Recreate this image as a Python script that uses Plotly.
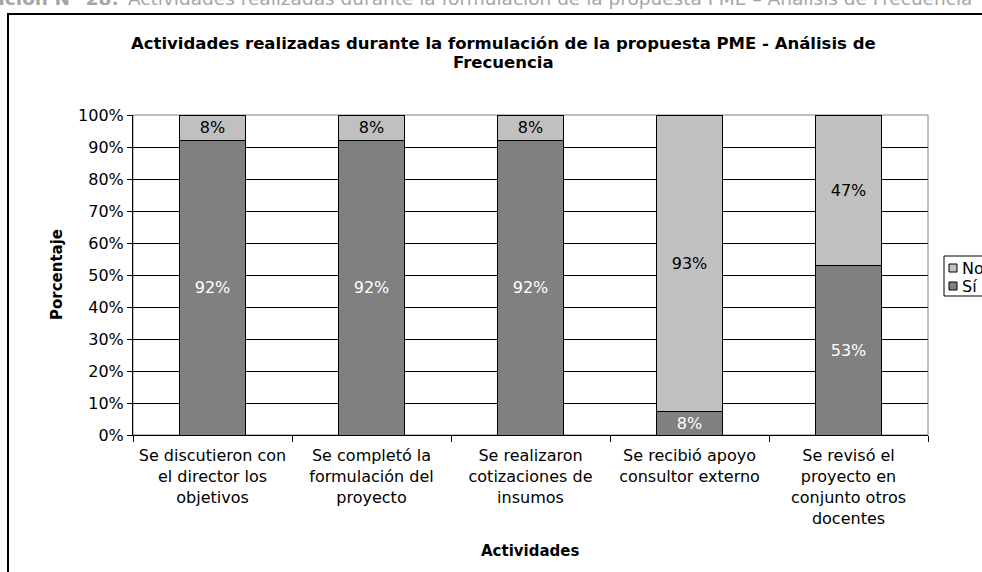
import plotly.graph_objects as go

# data (percent of respondents)
actividades = [
    "Se discutieron con<br>el director los<br>objetivos",
    "Se completó la<br>formulación del<br>proyecto",
    "Se realizaron<br>cotizaciones de<br>insumos",
    "Se recibió apoyo<br>consultor externo",
    "Se revisó el<br>proyecto en<br>conjunto otros<br>docentes",
]
si = [92, 92, 92, 7.5, 53]
no = [8, 8, 8, 92.5, 47]
series_names = ["No", "Sí"]
color_si = "#808080"
color_no = "#c0c0c0"

W, H = 982, 572
L, R, T, B = 133, 54, 115, 137
pw, ph = W - L - R, H - T - B


def px_x(x):
    return (x - L) / pw


def px_y(y):
    return (T + ph - y) / ph


font = "DejaVu Sans, Verdana, sans-serif"

fig = go.Figure()
fig.add_bar(x=actividades, y=si, name="Sí",
            marker=dict(color=color_si, line=dict(color="black", width=1)),
            texttemplate="%{y:.0f}%", textposition="inside",
            insidetextanchor="middle", constraintext="none",
            textfont=dict(color="white", size=16, family=font))
fig.add_bar(x=actividades, y=no, name="No",
            marker=dict(color=color_no, line=dict(color="black", width=1)),
            texttemplate="%{y:.0f}%", textposition="inside",
            insidetextanchor="middle", constraintext="none",
            textfont=dict(color="black", size=16, family=font))


def note(text, x, y, size, xa="center", ya="middle", color="black", **kw):
    return dict(text=text, showarrow=False, xref="paper", yref="paper",
                x=px_x(x), y=px_y(y), xanchor=xa, yanchor=ya,
                font=dict(size=size, family=font, color=color), **kw)


# legend drawn by hand (box is cut by the right edge like in the source)
legend_shapes = [
    dict(type="rect", xref="paper", yref="paper",
         x0=px_x(944), x1=px_x(1010), y0=px_y(296), y1=px_y(256),
         line=dict(color="black", width=1), fillcolor="white"),
]
legend_notes = []
for i, (name, col) in enumerate(zip(series_names, [color_no, color_si])):
    cy = 268 + 18 * i
    legend_shapes.append(dict(type="rect", xref="paper", yref="paper",
                              x0=px_x(949), x1=px_x(957),
                              y0=px_y(cy + 4), y1=px_y(cy - 4),
                              line=dict(color="black", width=1), fillcolor=col))
    legend_notes.append(note(name, 960, cy, 16, xa="left"))

fig.update_layout(
    width=W, height=H,
    barmode="stack", bargap=0.585,
    margin=dict(l=L, r=R, t=T, b=B, autoexpand=False),
    paper_bgcolor="white", plot_bgcolor="white",
    font=dict(family=font, size=16, color="black"),
    showlegend=False,
    xaxis=dict(showline=True, linecolor="black", linewidth=1,
               ticks="outside", ticklen=6, tickcolor="black",
               tickson="boundaries", tickangle=0, showgrid=False,
               ticklabelstandoff=6),
    yaxis=dict(range=[0, 100], dtick=10, ticksuffix="%",
               showline=True, linecolor="black", linewidth=1,
               ticks="outside", ticklen=5, tickcolor="black",
               showgrid=True, gridcolor="#000000", gridwidth=1,
               zeroline=False),
    shapes=[
        dict(type="rect", xref="paper", yref="paper", x0=0, x1=1, y0=0, y1=1,
             line=dict(color="#808080", width=1), layer="below"),
        dict(type="rect", xref="paper", yref="paper",
             x0=px_x(8), x1=px_x(1000), y0=px_y(600), y1=px_y(14),
             line=dict(color="black", width=2)),
    ] + legend_shapes,
    annotations=[
        note("<b>Actividades realizadas durante la formulación de la propuesta PME - Análisis de</b>",
             503, 44, 16.5),
        note("<b>Frecuencia</b>", 503, 62, 16.5),
        note("<b>Porcentaje</b>", 57, 275, 15, textangle=-90),
        note("<b>Actividades</b>", 530, 551, 15),
        note("<b>Ilustración N° 28:</b>", 121, 11, 18.5, xa="right", ya="bottom",
             color="#a6a6a6"),
        note("Actividades realizadas durante la formulación de la propuesta PME – Análisis de Frecuencia",
             126, 11, 18.5, xa="left", ya="bottom", color="#a6a6a6"),
    ] + legend_notes,
)

fig.write_html("out.html", config={"displayModeBar": False},
               post_script="document.body.style.margin='0';document.body.style.overflow='hidden';")
